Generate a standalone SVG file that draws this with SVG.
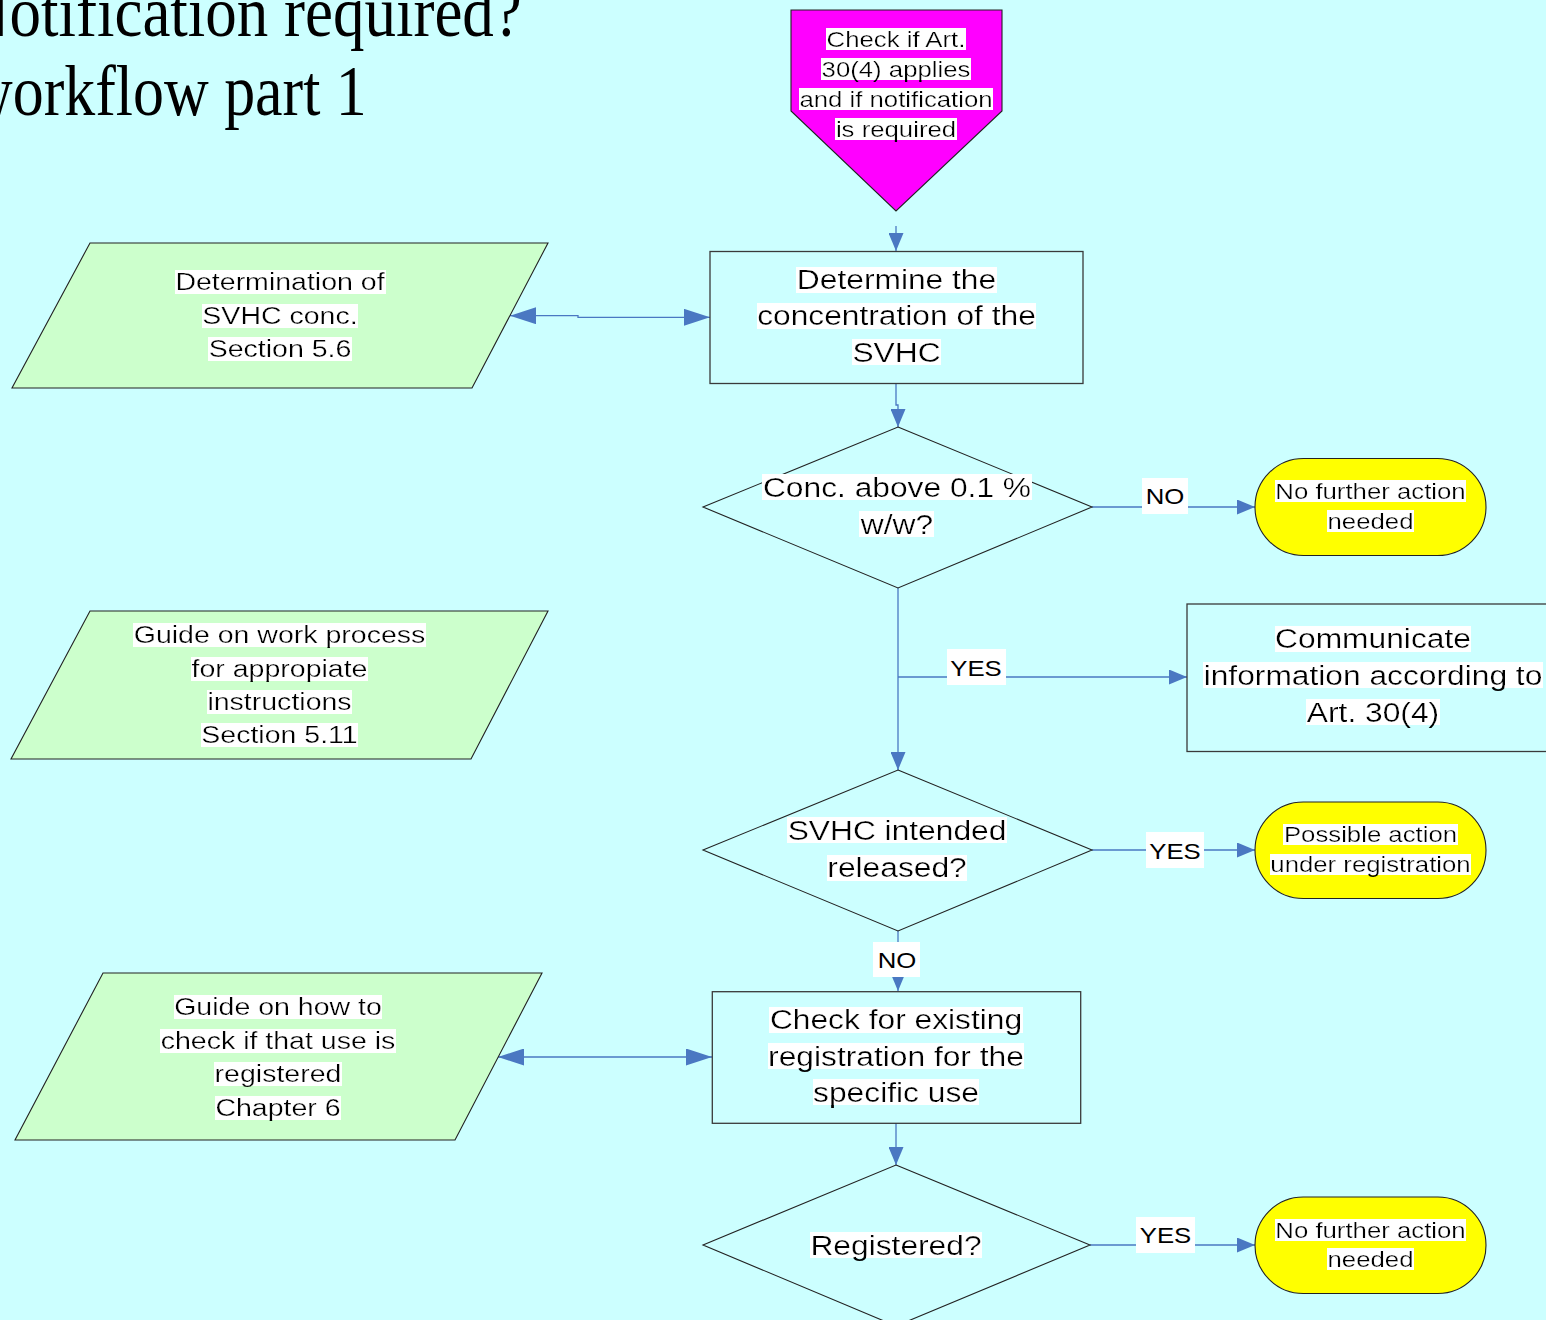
<svg xmlns="http://www.w3.org/2000/svg" width="1546" height="1320" viewBox="0 0 1546 1320">
<defs>
<style>
.t{font-family:"Liberation Sans",Arial,sans-serif;fill:#000;text-anchor:middle}
.hl{filter:url(#hl)}
.s22{font-size:22.4px}
.s25{font-size:24.8px}
.s27{font-size:27.6px}
.title{font-family:"Liberation Serif","Times New Roman",serif;font-size:72px;fill:#000}
.box{fill:none;stroke:#3a3a3a;stroke-width:1.3}
.dia{fill:none;stroke:#222;stroke-width:1.1}
.par{fill:#CCFFCC;stroke:#222;stroke-width:1.1}
.term{fill:#FFFF00;stroke:#222;stroke-width:1.1}
.con{fill:none;stroke:#4a78c2;stroke-width:1.3}
.lbl{fill:#fff}
</style>
<filter id="hl" x="-0.02" y="-0.2" width="1.04" height="1.4" primitiveUnits="objectBoundingBox">
<feFlood x="0" y="0.094" width="1" height="0.82" flood-color="#fff" result="bg"/>
<feMerge x="-0.02" y="-0.2" width="1.04" height="1.4"><feMergeNode in="bg"/><feMergeNode in="SourceGraphic"/></feMerge>
</filter>
<marker id="arr" markerUnits="userSpaceOnUse" markerWidth="18" markerHeight="15" refX="18" refY="7.5" orient="auto">
<path d="M0,0 L18,7.5 L0,15 z" fill="#4a78c2"/>
</marker>
<marker id="big" markerUnits="userSpaceOnUse" markerWidth="26" markerHeight="17" refX="26" refY="8.5" orient="auto-start-reverse">
<path d="M0,0 L26,8.5 L0,17 z" fill="#4a78c2"/>
</marker>
</defs>
<rect x="0" y="0" width="1546" height="1320" fill="#CCFFFF"/>

<g id="title">
<g transform="translate(-36 0) scale(0.875 1)"><text class="title" x="0" y="36">Notification required?</text></g>
<g transform="translate(-32 0) scale(0.86 1)"><text class="title" x="0" y="115">workflow part 1</text></g>
</g>

<g id="connectors">
<path class="con" d="M896,226 V251" marker-end="url(#arr)"/>
<path class="con" d="M510,315.7 H578 V317.3 H710" marker-start="url(#big)" marker-end="url(#big)"/>
<path class="con" d="M896,383 V405 H898 V427" marker-end="url(#arr)"/>
<path class="con" d="M1092,507 H1255" marker-end="url(#arr)"/>
<path class="con" d="M898,588 V770" marker-end="url(#arr)"/>
<path class="con" d="M898,677 H1187" marker-end="url(#arr)"/>
<path class="con" d="M1092,850 H1255" marker-end="url(#arr)"/>
<path class="con" d="M898,931 V991" marker-end="url(#arr)"/>
<path class="con" d="M498,1057 H712" marker-start="url(#big)" marker-end="url(#big)"/>
<path class="con" d="M896,1123 V1165" marker-end="url(#arr)"/>
<path class="con" d="M1090,1245 H1255" marker-end="url(#arr)"/>
<rect class="lbl" x="1142" y="478" width="46" height="36"/>
<g transform="translate(1165 0) scale(1.15 1)"><text class="t s22" x="0" y="504.5">NO</text></g>
<rect class="lbl" x="947" y="649" width="59" height="36"/>
<g transform="translate(976 0) scale(1.15 1)"><text class="t s22" x="0" y="676.5">YES</text></g>
<rect class="lbl" x="1146" y="832" width="58" height="36"/>
<g transform="translate(1175 0) scale(1.15 1)"><text class="t s22" x="0" y="859">YES</text></g>
<rect class="lbl" x="873" y="942" width="47" height="35"/>
<g transform="translate(897 0) scale(1.15 1)"><text class="t s22" x="0" y="968">NO</text></g>
<rect class="lbl" x="1136" y="1217" width="59" height="36"/>
<g transform="translate(1165.5 0) scale(1.15 1)"><text class="t s22" x="0" y="1243.5">YES</text></g>
</g>

<g id="start">
<path d="M791,10 H1002 V111 L896,211 L791,111 Z" fill="#FF00FF" stroke="#222" stroke-width="1.1"/>
<g transform="translate(896 0) scale(1.15 1)">
<text class="t s22 hl" x="0" y="47">Check if Art.</text>
<text class="t s22 hl" x="0" y="77">30(4) applies</text>
<text class="t s22 hl" x="0" y="107">and if notification</text>
<text class="t s22 hl" x="0" y="137">is required</text>
</g>
</g>

<g id="det-conc">
<rect class="box" x="710" y="251.5" width="373" height="132"/>
<g transform="translate(896.5 0) scale(1.15 1)">
<text class="t s27 hl" x="0" y="289.3">Determine the</text>
<text class="t s27 hl" x="0" y="325.5">concentration of the</text>
<text class="t s27 hl" x="0" y="361.7">SVHC</text>
</g>
</g>

<g id="ref-56">
<polygon class="par" points="90,243 548,243 472,388 12,388"/>
<g transform="translate(280 0) scale(1.15 1)">
<text class="t s25 hl" x="0" y="290">Determination of</text>
<text class="t s25 hl" x="0" y="324">SVHC conc.</text>
<text class="t s25 hl" x="0" y="357.5">Section 5.6</text>
</g>
</g>

<g id="dec-conc">
<polygon class="dia" points="898,427 1092,507 898,588 703,507"/>
<g transform="translate(897 0) scale(1.15 1)">
<text class="t s27 hl" x="0" y="497">Conc. above 0.1 %</text>
<text class="t s27 hl" x="0" y="534">w/w?</text>
</g>
</g>

<g id="end-1">
<rect class="term" x="1255" y="458.5" width="231" height="97" rx="48.5" ry="48.5"/>
<g transform="translate(1370.5 0) scale(1.15 1)">
<text class="t s22 hl" x="0" y="499">No further action</text>
<text class="t s22 hl" x="0" y="529">needed</text>
</g>
</g>

<g id="ref-511">
<polygon class="par" points="90,611 548,611 471,759 11,759"/>
<g transform="translate(279.5 0) scale(1.15 1)">
<text class="t s25 hl" x="0" y="643.5">Guide on work process</text>
<text class="t s25 hl" x="0" y="677">for appropiate</text>
<text class="t s25 hl" x="0" y="710">instructions</text>
<text class="t s25 hl" x="0" y="743">Section 5.11</text>
</g>
</g>

<g id="communicate">
<rect class="box" x="1187" y="604" width="380" height="147.5"/>
<g transform="translate(1373 0) scale(1.15 1)">
<text class="t s27 hl" x="0" y="648.5">Communicate</text>
<text class="t s27 hl" x="0" y="685">information according to</text>
<text class="t s27 hl" x="0" y="721.7">Art. 30(4)</text>
</g>
</g>

<g id="dec-release">
<polygon class="dia" points="898,770 1092,850 898,931 703,850"/>
<g transform="translate(897 0) scale(1.15 1)">
<text class="t s27 hl" x="0" y="840">SVHC intended</text>
<text class="t s27 hl" x="0" y="877.5">released?</text>
</g>
</g>

<g id="end-2">
<rect class="term" x="1255" y="802" width="231" height="96.5" rx="48.25" ry="48.25"/>
<g transform="translate(1370.5 0) scale(1.15 1)">
<text class="t s22 hl" x="0" y="842.5">Possible action</text>
<text class="t s22 hl" x="0" y="872.5">under registration</text>
</g>
</g>

<g id="check-reg">
<rect class="box" x="712.3" y="991.7" width="368.4" height="131.6"/>
<g transform="translate(896 0) scale(1.15 1)">
<text class="t s27 hl" x="0" y="1029.3">Check for existing</text>
<text class="t s27 hl" x="0" y="1066">registration for the</text>
<text class="t s27 hl" x="0" y="1101.7">specific use</text>
</g>
</g>

<g id="ref-ch6">
<polygon class="par" points="103,973 542,973 455,1140 15,1140"/>
<g transform="translate(278 0) scale(1.15 1)">
<text class="t s25 hl" x="0" y="1015">Guide on how to</text>
<text class="t s25 hl" x="0" y="1049">check if that use is</text>
<text class="t s25 hl" x="0" y="1082.5">registered</text>
<text class="t s25 hl" x="0" y="1116">Chapter 6</text>
</g>
</g>

<g id="dec-registered">
<polygon class="dia" points="896,1165 1090,1245 896,1326 703,1245"/>
<g transform="translate(896 0) scale(1.15 1)">
<text class="t s27 hl" x="0" y="1255">Registered?</text>
</g>
</g>

<g id="end-3">
<rect class="term" x="1255" y="1197" width="231" height="96.5" rx="48.25" ry="48.25"/>
<g transform="translate(1370.5 0) scale(1.15 1)">
<text class="t s22 hl" x="0" y="1237.7">No further action</text>
<text class="t s22 hl" x="0" y="1267">needed</text>
</g>
</g>
</svg>
